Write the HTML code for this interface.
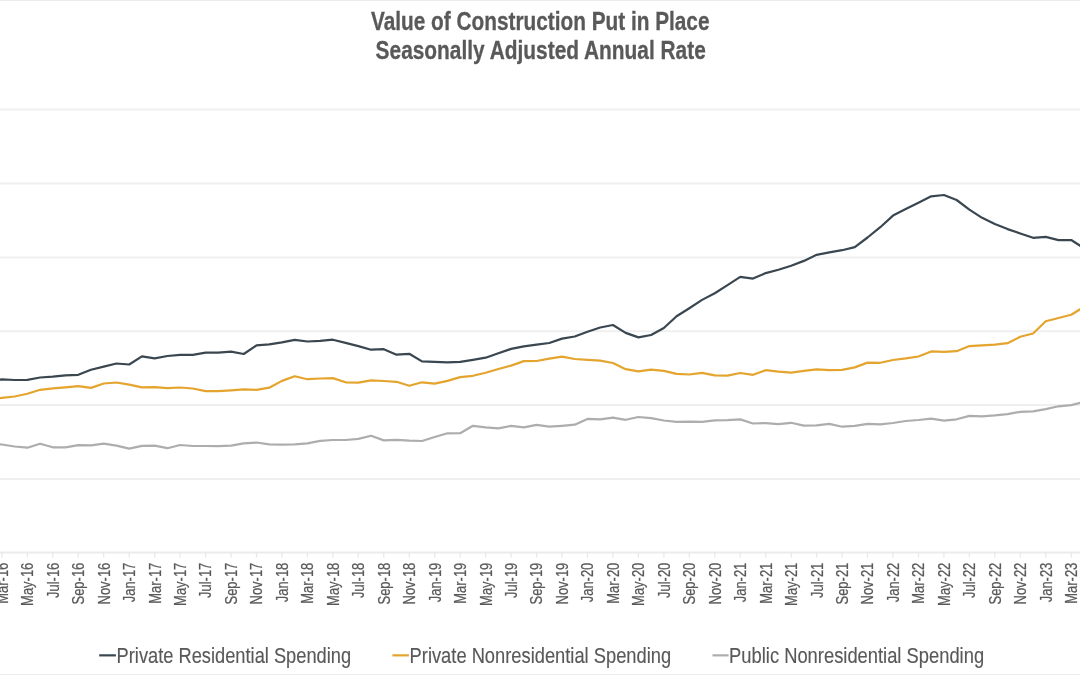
<!DOCTYPE html>
<html><head><meta charset="utf-8"><title>Value of Construction Put in Place</title>
<style>html,body{margin:0;padding:0;background:#fff;}body{width:1080px;height:675px;overflow:hidden;}svg{display:block;}</style>
</head><body>
<svg width="1080" height="675" viewBox="0 0 1080 675">
<rect x="0" y="0" width="1080" height="675" fill="#ffffff"/>
<g>
<rect x="0" y="0" width="1080" height="1" fill="#ececec"/>
<rect x="0" y="674" width="1080" height="1" fill="#ececec"/>
<line x1="0" y1="109.6" x2="1080" y2="109.6" stroke="#efefef" stroke-width="2"/>
<line x1="0" y1="183.55" x2="1080" y2="183.55" stroke="#efefef" stroke-width="2"/>
<line x1="0" y1="257.5" x2="1080" y2="257.5" stroke="#efefef" stroke-width="2"/>
<line x1="0" y1="331.35" x2="1080" y2="331.35" stroke="#efefef" stroke-width="2"/>
<line x1="0" y1="404.9" x2="1080" y2="404.9" stroke="#efefef" stroke-width="2"/>
<line x1="0" y1="478.9" x2="1080" y2="478.9" stroke="#efefef" stroke-width="2"/>
<line x1="0" y1="552.4" x2="1080" y2="552.4" stroke="#ebebeb" stroke-width="2"/>
<line x1="1.9" y1="552.4" x2="1.9" y2="557.4" stroke="#e8e8e8" stroke-width="1.3"/>
<line x1="27.4" y1="552.4" x2="27.4" y2="557.4" stroke="#e8e8e8" stroke-width="1.3"/>
<line x1="52.8" y1="552.4" x2="52.8" y2="557.4" stroke="#e8e8e8" stroke-width="1.3"/>
<line x1="78.3" y1="552.4" x2="78.3" y2="557.4" stroke="#e8e8e8" stroke-width="1.3"/>
<line x1="103.7" y1="552.4" x2="103.7" y2="557.4" stroke="#e8e8e8" stroke-width="1.3"/>
<line x1="129.2" y1="552.4" x2="129.2" y2="557.4" stroke="#e8e8e8" stroke-width="1.3"/>
<line x1="154.7" y1="552.4" x2="154.7" y2="557.4" stroke="#e8e8e8" stroke-width="1.3"/>
<line x1="180.1" y1="552.4" x2="180.1" y2="557.4" stroke="#e8e8e8" stroke-width="1.3"/>
<line x1="205.6" y1="552.4" x2="205.6" y2="557.4" stroke="#e8e8e8" stroke-width="1.3"/>
<line x1="231.0" y1="552.4" x2="231.0" y2="557.4" stroke="#e8e8e8" stroke-width="1.3"/>
<line x1="256.5" y1="552.4" x2="256.5" y2="557.4" stroke="#e8e8e8" stroke-width="1.3"/>
<line x1="282.0" y1="552.4" x2="282.0" y2="557.4" stroke="#e8e8e8" stroke-width="1.3"/>
<line x1="307.4" y1="552.4" x2="307.4" y2="557.4" stroke="#e8e8e8" stroke-width="1.3"/>
<line x1="332.9" y1="552.4" x2="332.9" y2="557.4" stroke="#e8e8e8" stroke-width="1.3"/>
<line x1="358.3" y1="552.4" x2="358.3" y2="557.4" stroke="#e8e8e8" stroke-width="1.3"/>
<line x1="383.8" y1="552.4" x2="383.8" y2="557.4" stroke="#e8e8e8" stroke-width="1.3"/>
<line x1="409.3" y1="552.4" x2="409.3" y2="557.4" stroke="#e8e8e8" stroke-width="1.3"/>
<line x1="434.7" y1="552.4" x2="434.7" y2="557.4" stroke="#e8e8e8" stroke-width="1.3"/>
<line x1="460.2" y1="552.4" x2="460.2" y2="557.4" stroke="#e8e8e8" stroke-width="1.3"/>
<line x1="485.6" y1="552.4" x2="485.6" y2="557.4" stroke="#e8e8e8" stroke-width="1.3"/>
<line x1="511.1" y1="552.4" x2="511.1" y2="557.4" stroke="#e8e8e8" stroke-width="1.3"/>
<line x1="536.6" y1="552.4" x2="536.6" y2="557.4" stroke="#e8e8e8" stroke-width="1.3"/>
<line x1="562.0" y1="552.4" x2="562.0" y2="557.4" stroke="#e8e8e8" stroke-width="1.3"/>
<line x1="587.5" y1="552.4" x2="587.5" y2="557.4" stroke="#e8e8e8" stroke-width="1.3"/>
<line x1="612.9" y1="552.4" x2="612.9" y2="557.4" stroke="#e8e8e8" stroke-width="1.3"/>
<line x1="638.4" y1="552.4" x2="638.4" y2="557.4" stroke="#e8e8e8" stroke-width="1.3"/>
<line x1="663.9" y1="552.4" x2="663.9" y2="557.4" stroke="#e8e8e8" stroke-width="1.3"/>
<line x1="689.3" y1="552.4" x2="689.3" y2="557.4" stroke="#e8e8e8" stroke-width="1.3"/>
<line x1="714.8" y1="552.4" x2="714.8" y2="557.4" stroke="#e8e8e8" stroke-width="1.3"/>
<line x1="740.2" y1="552.4" x2="740.2" y2="557.4" stroke="#e8e8e8" stroke-width="1.3"/>
<line x1="765.7" y1="552.4" x2="765.7" y2="557.4" stroke="#e8e8e8" stroke-width="1.3"/>
<line x1="791.2" y1="552.4" x2="791.2" y2="557.4" stroke="#e8e8e8" stroke-width="1.3"/>
<line x1="816.6" y1="552.4" x2="816.6" y2="557.4" stroke="#e8e8e8" stroke-width="1.3"/>
<line x1="842.1" y1="552.4" x2="842.1" y2="557.4" stroke="#e8e8e8" stroke-width="1.3"/>
<line x1="867.5" y1="552.4" x2="867.5" y2="557.4" stroke="#e8e8e8" stroke-width="1.3"/>
<line x1="893.0" y1="552.4" x2="893.0" y2="557.4" stroke="#e8e8e8" stroke-width="1.3"/>
<line x1="918.5" y1="552.4" x2="918.5" y2="557.4" stroke="#e8e8e8" stroke-width="1.3"/>
<line x1="943.9" y1="552.4" x2="943.9" y2="557.4" stroke="#e8e8e8" stroke-width="1.3"/>
<line x1="969.4" y1="552.4" x2="969.4" y2="557.4" stroke="#e8e8e8" stroke-width="1.3"/>
<line x1="994.8" y1="552.4" x2="994.8" y2="557.4" stroke="#e8e8e8" stroke-width="1.3"/>
<line x1="1020.3" y1="552.4" x2="1020.3" y2="557.4" stroke="#e8e8e8" stroke-width="1.3"/>
<line x1="1045.8" y1="552.4" x2="1045.8" y2="557.4" stroke="#e8e8e8" stroke-width="1.3"/>
<line x1="1071.2" y1="552.4" x2="1071.2" y2="557.4" stroke="#e8e8e8" stroke-width="1.3"/>
<path d="M-10.83,443.90 L1.90,444.50 L14.63,446.50 L27.36,447.70 L40.09,443.70 L52.82,447.30 L65.55,447.30 L78.28,445.10 L91.01,445.40 L103.74,443.70 L116.47,445.60 L129.20,448.60 L141.93,445.90 L154.66,445.60 L167.39,448.20 L180.12,445.00 L192.85,446.00 L205.58,446.00 L218.31,446.20 L231.04,445.60 L243.77,443.30 L256.50,442.50 L269.23,444.40 L281.96,444.70 L294.69,444.40 L307.42,443.30 L320.15,440.80 L332.88,440.00 L345.61,440.00 L358.34,438.90 L371.07,435.80 L383.80,440.40 L396.53,439.90 L409.26,440.70 L421.99,441.00 L434.72,437.00 L447.45,433.30 L460.18,433.20 L472.91,425.80 L485.64,427.40 L498.37,428.40 L511.10,425.80 L523.83,427.40 L536.56,424.80 L549.29,426.70 L562.02,425.80 L574.75,424.70 L587.48,418.90 L600.21,419.40 L612.94,417.70 L625.67,419.80 L638.40,417.00 L651.13,418.20 L663.86,420.50 L676.59,421.90 L689.32,421.60 L702.05,421.90 L714.78,420.30 L727.51,420.10 L740.24,419.40 L752.97,423.50 L765.70,423.10 L778.43,424.20 L791.16,422.80 L803.89,425.60 L816.62,425.30 L829.35,423.90 L842.08,426.70 L854.81,425.80 L867.54,423.90 L880.27,424.40 L893.00,423.00 L905.73,421.00 L918.46,420.00 L931.19,418.60 L943.92,420.70 L956.65,419.30 L969.38,415.90 L982.11,416.40 L994.84,415.40 L1007.57,414.10 L1020.30,411.80 L1033.03,411.40 L1045.76,409.10 L1058.49,406.30 L1071.22,405.10 L1083.95,401.80" fill="none" stroke="#adadad" stroke-width="2.2" stroke-linejoin="round" stroke-linecap="round"/>
<path d="M-10.83,399.40 L1.90,397.90 L14.63,396.50 L27.36,393.70 L40.09,389.80 L52.82,388.40 L65.55,387.30 L78.28,386.10 L91.01,387.90 L103.74,383.50 L116.47,382.50 L129.20,384.70 L141.93,387.30 L154.66,387.20 L167.39,388.10 L180.12,387.50 L192.85,388.50 L205.58,391.20 L218.31,391.20 L231.04,390.30 L243.77,389.40 L256.50,389.80 L269.23,387.70 L281.96,380.90 L294.69,376.20 L307.42,379.20 L320.15,378.50 L332.88,378.10 L345.61,382.30 L358.34,382.70 L371.07,380.40 L383.80,381.00 L396.53,381.80 L409.26,385.80 L421.99,382.30 L434.72,383.60 L447.45,380.90 L460.18,377.10 L472.91,375.80 L485.64,372.70 L498.37,369.00 L511.10,365.60 L523.83,361.10 L536.56,361.00 L549.29,358.70 L562.02,356.70 L574.75,359.00 L587.48,359.90 L600.21,360.70 L612.94,363.00 L625.67,369.20 L638.40,371.30 L651.13,369.70 L663.86,370.90 L676.59,373.90 L689.32,374.50 L702.05,372.90 L714.78,375.30 L727.51,375.70 L740.24,373.00 L752.97,374.80 L765.70,370.20 L778.43,371.70 L791.16,372.60 L803.89,370.80 L816.62,369.30 L829.35,370.20 L842.08,369.80 L854.81,367.40 L867.54,362.60 L880.27,362.80 L893.00,360.00 L905.73,358.40 L918.46,356.50 L931.19,351.40 L943.92,351.90 L956.65,351.20 L969.38,346.10 L982.11,345.30 L994.84,344.60 L1007.57,343.20 L1020.30,336.70 L1033.03,333.50 L1045.76,321.20 L1058.49,318.00 L1071.22,314.70 L1083.95,307.00" fill="none" stroke="#e4a42e" stroke-width="2.2" stroke-linejoin="round" stroke-linecap="round"/>
<path d="M-10.83,380.90 L1.90,379.40 L14.63,380.00 L27.36,379.80 L40.09,377.50 L52.82,376.60 L65.55,375.40 L78.28,374.80 L91.01,369.80 L103.74,366.60 L116.47,363.50 L129.20,364.50 L141.93,356.40 L154.66,358.30 L167.39,356.00 L180.12,354.90 L192.85,354.80 L205.58,352.60 L218.31,352.60 L231.04,351.70 L243.77,354.00 L256.50,345.40 L269.23,344.30 L281.96,342.30 L294.69,339.80 L307.42,341.50 L320.15,340.80 L332.88,339.70 L345.61,342.90 L358.34,346.10 L371.07,349.70 L383.80,349.20 L396.53,354.70 L409.26,353.80 L421.99,361.40 L434.72,361.90 L447.45,362.30 L460.18,361.80 L472.91,359.80 L485.64,357.70 L498.37,353.30 L511.10,348.90 L523.83,346.30 L536.56,344.70 L549.29,343.00 L562.02,338.60 L574.75,336.50 L587.48,331.70 L600.21,327.50 L612.94,325.00 L625.67,332.90 L638.40,337.40 L651.13,335.00 L663.86,328.00 L676.59,316.20 L689.32,308.20 L702.05,299.90 L714.78,293.20 L727.51,285.10 L740.24,276.80 L752.97,278.60 L765.70,273.10 L778.43,269.70 L791.16,265.80 L803.89,260.90 L816.62,254.80 L829.35,252.30 L842.08,250.20 L854.81,247.10 L867.54,237.50 L880.27,227.20 L893.00,215.60 L905.73,209.10 L918.46,202.80 L931.19,196.30 L943.92,195.00 L956.65,200.00 L969.38,209.60 L982.11,217.80 L994.84,224.00 L1007.57,229.10 L1020.30,233.50 L1033.03,237.80 L1045.76,236.90 L1058.49,240.10 L1071.22,240.00 L1083.95,248.10" fill="none" stroke="#3a4750" stroke-width="2.2" stroke-linejoin="round" stroke-linecap="round"/>
<text x="0" y="0" transform="translate(7.80,562.7) rotate(-90) scale(0.81,1)" text-anchor="end" font-size="16" fill="#595959" stroke="#595959" stroke-width="0.25" font-family="Liberation Sans, Arial, sans-serif">Mar-16</text>
<text x="0" y="0" transform="translate(33.26,562.7) rotate(-90) scale(0.81,1)" text-anchor="end" font-size="16" fill="#595959" stroke="#595959" stroke-width="0.25" font-family="Liberation Sans, Arial, sans-serif">May-16</text>
<text x="0" y="0" transform="translate(58.72,562.7) rotate(-90) scale(0.81,1)" text-anchor="end" font-size="16" fill="#595959" stroke="#595959" stroke-width="0.25" font-family="Liberation Sans, Arial, sans-serif">Jul-16</text>
<text x="0" y="0" transform="translate(84.18,562.7) rotate(-90) scale(0.81,1)" text-anchor="end" font-size="16" fill="#595959" stroke="#595959" stroke-width="0.25" font-family="Liberation Sans, Arial, sans-serif">Sep-16</text>
<text x="0" y="0" transform="translate(109.64,562.7) rotate(-90) scale(0.81,1)" text-anchor="end" font-size="16" fill="#595959" stroke="#595959" stroke-width="0.25" font-family="Liberation Sans, Arial, sans-serif">Nov-16</text>
<text x="0" y="0" transform="translate(135.10,562.7) rotate(-90) scale(0.81,1)" text-anchor="end" font-size="16" fill="#595959" stroke="#595959" stroke-width="0.25" font-family="Liberation Sans, Arial, sans-serif">Jan-17</text>
<text x="0" y="0" transform="translate(160.56,562.7) rotate(-90) scale(0.81,1)" text-anchor="end" font-size="16" fill="#595959" stroke="#595959" stroke-width="0.25" font-family="Liberation Sans, Arial, sans-serif">Mar-17</text>
<text x="0" y="0" transform="translate(186.02,562.7) rotate(-90) scale(0.81,1)" text-anchor="end" font-size="16" fill="#595959" stroke="#595959" stroke-width="0.25" font-family="Liberation Sans, Arial, sans-serif">May-17</text>
<text x="0" y="0" transform="translate(211.48,562.7) rotate(-90) scale(0.81,1)" text-anchor="end" font-size="16" fill="#595959" stroke="#595959" stroke-width="0.25" font-family="Liberation Sans, Arial, sans-serif">Jul-17</text>
<text x="0" y="0" transform="translate(236.94,562.7) rotate(-90) scale(0.81,1)" text-anchor="end" font-size="16" fill="#595959" stroke="#595959" stroke-width="0.25" font-family="Liberation Sans, Arial, sans-serif">Sep-17</text>
<text x="0" y="0" transform="translate(262.40,562.7) rotate(-90) scale(0.81,1)" text-anchor="end" font-size="16" fill="#595959" stroke="#595959" stroke-width="0.25" font-family="Liberation Sans, Arial, sans-serif">Nov-17</text>
<text x="0" y="0" transform="translate(287.86,562.7) rotate(-90) scale(0.81,1)" text-anchor="end" font-size="16" fill="#595959" stroke="#595959" stroke-width="0.25" font-family="Liberation Sans, Arial, sans-serif">Jan-18</text>
<text x="0" y="0" transform="translate(313.32,562.7) rotate(-90) scale(0.81,1)" text-anchor="end" font-size="16" fill="#595959" stroke="#595959" stroke-width="0.25" font-family="Liberation Sans, Arial, sans-serif">Mar-18</text>
<text x="0" y="0" transform="translate(338.78,562.7) rotate(-90) scale(0.81,1)" text-anchor="end" font-size="16" fill="#595959" stroke="#595959" stroke-width="0.25" font-family="Liberation Sans, Arial, sans-serif">May-18</text>
<text x="0" y="0" transform="translate(364.24,562.7) rotate(-90) scale(0.81,1)" text-anchor="end" font-size="16" fill="#595959" stroke="#595959" stroke-width="0.25" font-family="Liberation Sans, Arial, sans-serif">Jul-18</text>
<text x="0" y="0" transform="translate(389.70,562.7) rotate(-90) scale(0.81,1)" text-anchor="end" font-size="16" fill="#595959" stroke="#595959" stroke-width="0.25" font-family="Liberation Sans, Arial, sans-serif">Sep-18</text>
<text x="0" y="0" transform="translate(415.16,562.7) rotate(-90) scale(0.81,1)" text-anchor="end" font-size="16" fill="#595959" stroke="#595959" stroke-width="0.25" font-family="Liberation Sans, Arial, sans-serif">Nov-18</text>
<text x="0" y="0" transform="translate(440.62,562.7) rotate(-90) scale(0.81,1)" text-anchor="end" font-size="16" fill="#595959" stroke="#595959" stroke-width="0.25" font-family="Liberation Sans, Arial, sans-serif">Jan-19</text>
<text x="0" y="0" transform="translate(466.08,562.7) rotate(-90) scale(0.81,1)" text-anchor="end" font-size="16" fill="#595959" stroke="#595959" stroke-width="0.25" font-family="Liberation Sans, Arial, sans-serif">Mar-19</text>
<text x="0" y="0" transform="translate(491.54,562.7) rotate(-90) scale(0.81,1)" text-anchor="end" font-size="16" fill="#595959" stroke="#595959" stroke-width="0.25" font-family="Liberation Sans, Arial, sans-serif">May-19</text>
<text x="0" y="0" transform="translate(517.00,562.7) rotate(-90) scale(0.81,1)" text-anchor="end" font-size="16" fill="#595959" stroke="#595959" stroke-width="0.25" font-family="Liberation Sans, Arial, sans-serif">Jul-19</text>
<text x="0" y="0" transform="translate(542.46,562.7) rotate(-90) scale(0.81,1)" text-anchor="end" font-size="16" fill="#595959" stroke="#595959" stroke-width="0.25" font-family="Liberation Sans, Arial, sans-serif">Sep-19</text>
<text x="0" y="0" transform="translate(567.92,562.7) rotate(-90) scale(0.81,1)" text-anchor="end" font-size="16" fill="#595959" stroke="#595959" stroke-width="0.25" font-family="Liberation Sans, Arial, sans-serif">Nov-19</text>
<text x="0" y="0" transform="translate(593.38,562.7) rotate(-90) scale(0.81,1)" text-anchor="end" font-size="16" fill="#595959" stroke="#595959" stroke-width="0.25" font-family="Liberation Sans, Arial, sans-serif">Jan-20</text>
<text x="0" y="0" transform="translate(618.84,562.7) rotate(-90) scale(0.81,1)" text-anchor="end" font-size="16" fill="#595959" stroke="#595959" stroke-width="0.25" font-family="Liberation Sans, Arial, sans-serif">Mar-20</text>
<text x="0" y="0" transform="translate(644.30,562.7) rotate(-90) scale(0.81,1)" text-anchor="end" font-size="16" fill="#595959" stroke="#595959" stroke-width="0.25" font-family="Liberation Sans, Arial, sans-serif">May-20</text>
<text x="0" y="0" transform="translate(669.76,562.7) rotate(-90) scale(0.81,1)" text-anchor="end" font-size="16" fill="#595959" stroke="#595959" stroke-width="0.25" font-family="Liberation Sans, Arial, sans-serif">Jul-20</text>
<text x="0" y="0" transform="translate(695.22,562.7) rotate(-90) scale(0.81,1)" text-anchor="end" font-size="16" fill="#595959" stroke="#595959" stroke-width="0.25" font-family="Liberation Sans, Arial, sans-serif">Sep-20</text>
<text x="0" y="0" transform="translate(720.68,562.7) rotate(-90) scale(0.81,1)" text-anchor="end" font-size="16" fill="#595959" stroke="#595959" stroke-width="0.25" font-family="Liberation Sans, Arial, sans-serif">Nov-20</text>
<text x="0" y="0" transform="translate(746.14,562.7) rotate(-90) scale(0.81,1)" text-anchor="end" font-size="16" fill="#595959" stroke="#595959" stroke-width="0.25" font-family="Liberation Sans, Arial, sans-serif">Jan-21</text>
<text x="0" y="0" transform="translate(771.60,562.7) rotate(-90) scale(0.81,1)" text-anchor="end" font-size="16" fill="#595959" stroke="#595959" stroke-width="0.25" font-family="Liberation Sans, Arial, sans-serif">Mar-21</text>
<text x="0" y="0" transform="translate(797.06,562.7) rotate(-90) scale(0.81,1)" text-anchor="end" font-size="16" fill="#595959" stroke="#595959" stroke-width="0.25" font-family="Liberation Sans, Arial, sans-serif">May-21</text>
<text x="0" y="0" transform="translate(822.52,562.7) rotate(-90) scale(0.81,1)" text-anchor="end" font-size="16" fill="#595959" stroke="#595959" stroke-width="0.25" font-family="Liberation Sans, Arial, sans-serif">Jul-21</text>
<text x="0" y="0" transform="translate(847.98,562.7) rotate(-90) scale(0.81,1)" text-anchor="end" font-size="16" fill="#595959" stroke="#595959" stroke-width="0.25" font-family="Liberation Sans, Arial, sans-serif">Sep-21</text>
<text x="0" y="0" transform="translate(873.44,562.7) rotate(-90) scale(0.81,1)" text-anchor="end" font-size="16" fill="#595959" stroke="#595959" stroke-width="0.25" font-family="Liberation Sans, Arial, sans-serif">Nov-21</text>
<text x="0" y="0" transform="translate(898.90,562.7) rotate(-90) scale(0.81,1)" text-anchor="end" font-size="16" fill="#595959" stroke="#595959" stroke-width="0.25" font-family="Liberation Sans, Arial, sans-serif">Jan-22</text>
<text x="0" y="0" transform="translate(924.36,562.7) rotate(-90) scale(0.81,1)" text-anchor="end" font-size="16" fill="#595959" stroke="#595959" stroke-width="0.25" font-family="Liberation Sans, Arial, sans-serif">Mar-22</text>
<text x="0" y="0" transform="translate(949.82,562.7) rotate(-90) scale(0.81,1)" text-anchor="end" font-size="16" fill="#595959" stroke="#595959" stroke-width="0.25" font-family="Liberation Sans, Arial, sans-serif">May-22</text>
<text x="0" y="0" transform="translate(975.28,562.7) rotate(-90) scale(0.81,1)" text-anchor="end" font-size="16" fill="#595959" stroke="#595959" stroke-width="0.25" font-family="Liberation Sans, Arial, sans-serif">Jul-22</text>
<text x="0" y="0" transform="translate(1000.74,562.7) rotate(-90) scale(0.81,1)" text-anchor="end" font-size="16" fill="#595959" stroke="#595959" stroke-width="0.25" font-family="Liberation Sans, Arial, sans-serif">Sep-22</text>
<text x="0" y="0" transform="translate(1026.20,562.7) rotate(-90) scale(0.81,1)" text-anchor="end" font-size="16" fill="#595959" stroke="#595959" stroke-width="0.25" font-family="Liberation Sans, Arial, sans-serif">Nov-22</text>
<text x="0" y="0" transform="translate(1051.66,562.7) rotate(-90) scale(0.81,1)" text-anchor="end" font-size="16" fill="#595959" stroke="#595959" stroke-width="0.25" font-family="Liberation Sans, Arial, sans-serif">Jan-23</text>
<text x="0" y="0" transform="translate(1077.12,562.7) rotate(-90) scale(0.81,1)" text-anchor="end" font-size="16" fill="#595959" stroke="#595959" stroke-width="0.25" font-family="Liberation Sans, Arial, sans-serif">Mar-23</text>
<text x="371" y="29.6" font-size="25.5" font-weight="bold" fill="#595959" stroke="#595959" stroke-width="0.3" font-family="Liberation Sans, Arial, sans-serif" textLength="338.5" lengthAdjust="spacingAndGlyphs">Value of Construction Put in Place</text>
<text x="375.6" y="58.6" font-size="25.5" font-weight="bold" fill="#595959" stroke="#595959" stroke-width="0.3" font-family="Liberation Sans, Arial, sans-serif" textLength="330.2" lengthAdjust="spacingAndGlyphs">Seasonally Adjusted Annual Rate</text>
<line x1="99.2" y1="655.35" x2="115.9" y2="655.35" stroke="#3a4750" stroke-width="2.2"/>
<text x="116.6" y="662.5" font-size="22" fill="#595959" stroke="#595959" stroke-width="0.15" font-family="Liberation Sans, Arial, sans-serif" textLength="234.5" lengthAdjust="spacingAndGlyphs">Private Residential Spending</text>
<line x1="392.4" y1="655.35" x2="408.9" y2="655.35" stroke="#e4a42e" stroke-width="2.2"/>
<text x="409.6" y="662.5" font-size="22" fill="#595959" stroke="#595959" stroke-width="0.15" font-family="Liberation Sans, Arial, sans-serif" textLength="261.5" lengthAdjust="spacingAndGlyphs">Private Nonresidential Spending</text>
<line x1="712.5" y1="655.35" x2="728.6" y2="655.35" stroke="#adadad" stroke-width="2.2"/>
<text x="729.1" y="662.5" font-size="22" fill="#595959" stroke="#595959" stroke-width="0.15" font-family="Liberation Sans, Arial, sans-serif" textLength="255" lengthAdjust="spacingAndGlyphs">Public Nonresidential Spending</text>
</g></svg>
</body></html>
